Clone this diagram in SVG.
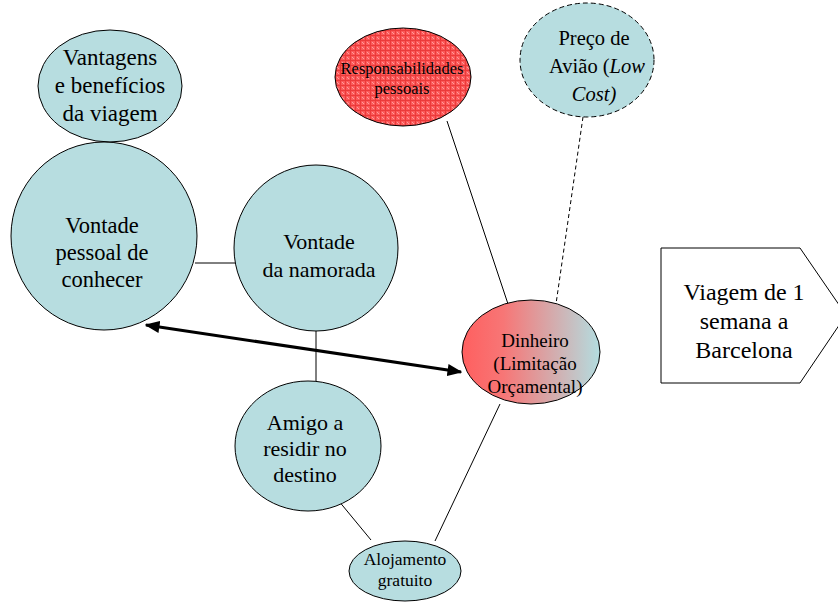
<svg xmlns="http://www.w3.org/2000/svg" width="838" height="603" viewBox="0 0 838 603">
<style>
.n{fill:#b7dde0;stroke:#000;stroke-width:1}
.t{fill:#000;text-anchor:middle}
.c{stroke:#000;stroke-width:1;fill:none}
</style>
<defs>
<pattern id="grid" width="5" height="5" patternUnits="userSpaceOnUse">
<rect width="5" height="5" fill="#fb5a5a"/>
<rect x="0" y="0" width="5" height="1" fill="#ec3a3a"/>
<rect x="0" y="0" width="1" height="5" fill="#ec3a3a"/>
<rect x="2" y="2" width="1" height="1" fill="#ff9c9c"/>
<rect x="3" y="3" width="1" height="1" fill="#ff9c9c"/>
</pattern>
<linearGradient id="grad" x1="0" y1="0" x2="1" y2="0">
<stop offset="0" stop-color="#ff5f5f"/>
<stop offset="0.3" stop-color="#f77676"/>
<stop offset="1" stop-color="#b3dde0"/>
</linearGradient>
<marker id="ah" viewBox="0 0 10 10" refX="9" refY="5" markerWidth="5" markerHeight="5" orient="auto-start-reverse" markerUnits="strokeWidth">
<path d="M0,1 L10,5 L0,9 z" fill="#000"/>
</marker>
</defs>
<g id="connectors">
<line class="c" x1="107" y1="142" x2="107" y2="168"/>
<line class="c" x1="195" y1="263" x2="237" y2="263"/>
<line class="c" x1="316" y1="330" x2="316" y2="390"/>
<line class="c" x1="338" y1="500" x2="371" y2="540"/>
<line class="c" x1="435" y1="541" x2="500" y2="404"/>
<line class="c" x1="447" y1="121" x2="509" y2="307"/>
<line class="c" x1="583" y1="117" x2="556" y2="304" stroke-dasharray="4,3"/>
<line x1="146" y1="325" x2="461" y2="372" stroke="#000" stroke-width="3" marker-start="url(#ah)" marker-end="url(#ah)"/>
</g>
<g font-family="Liberation Serif, Times New Roman, serif">
<g id="vantagens">
<ellipse class="n" cx="110" cy="86" rx="72" ry="56"/>
<text class="t" font-size="23"><tspan x="110" y="65">Vantagens</tspan><tspan x="110" y="93">e benefícios</tspan><tspan x="110" y="121">da viagem</tspan></text>
</g>
<g id="vontade-pessoal">
<ellipse class="n" cx="104" cy="236" rx="93" ry="94"/>
<text class="t" font-size="22.5"><tspan x="102" y="233">Vontade</tspan><tspan x="102" y="260">pessoal de</tspan><tspan x="102" y="287">conhecer</tspan></text>
</g>
<g id="vontade-namorada">
<ellipse class="n" cx="316" cy="248" rx="82" ry="83"/>
<text class="t" font-size="22"><tspan x="319" y="249">Vontade</tspan><tspan x="319" y="277">da namorada</tspan></text>
</g>
<g id="responsabilidades">
<ellipse cx="403" cy="77" rx="68" ry="49" fill="url(#grid)" stroke="#000" stroke-width="1"/>
<text class="t" font-size="16.5"><tspan x="402" y="74">Responsabilidades</tspan><tspan x="402" y="94">pessoais</tspan></text>
</g>
<g id="preco">
<ellipse class="n" cx="587" cy="60" rx="67" ry="57" stroke-dasharray="5,3"/>
<text class="t" font-size="20.5"><tspan x="594" y="45">Preço de</tspan><tspan x="597" y="73">Avião (<tspan font-style="italic">Low</tspan></tspan><tspan x="594" y="101" font-style="italic">Cost)</tspan></text>
</g>
<g id="dinheiro">
<ellipse cx="531" cy="352" rx="69" ry="52" fill="url(#grad)" stroke="#000" stroke-width="1"/>
<text class="t" font-size="19"><tspan x="535" y="347">Dinheiro</tspan><tspan x="535" y="370">(Limitação</tspan><tspan x="535" y="393">Orçamental)</tspan></text>
</g>
<g id="amigo">
<ellipse class="n" cx="308" cy="446" rx="73" ry="65"/>
<text class="t" font-size="22"><tspan x="305" y="430">Amigo a</tspan><tspan x="305" y="456">residir no</tspan><tspan x="305" y="482">destino</tspan></text>
</g>
<g id="alojamento">
<ellipse class="n" cx="405" cy="571" rx="56" ry="30"/>
<text class="t" font-size="17.5"><tspan x="405" y="565">Alojamento</tspan><tspan x="405" y="586">gratuito</tspan></text>
</g>
<g id="viagem">
<polygon points="661,248 800,248 846,315 800,383 661,383" fill="#fff" stroke="#000" stroke-width="1"/>
<text class="t" font-size="24"><tspan x="744" y="300">Viagem de 1</tspan><tspan x="744" y="329">semana a</tspan><tspan x="744" y="358">Barcelona</tspan></text>
</g>
</g>
</svg>
